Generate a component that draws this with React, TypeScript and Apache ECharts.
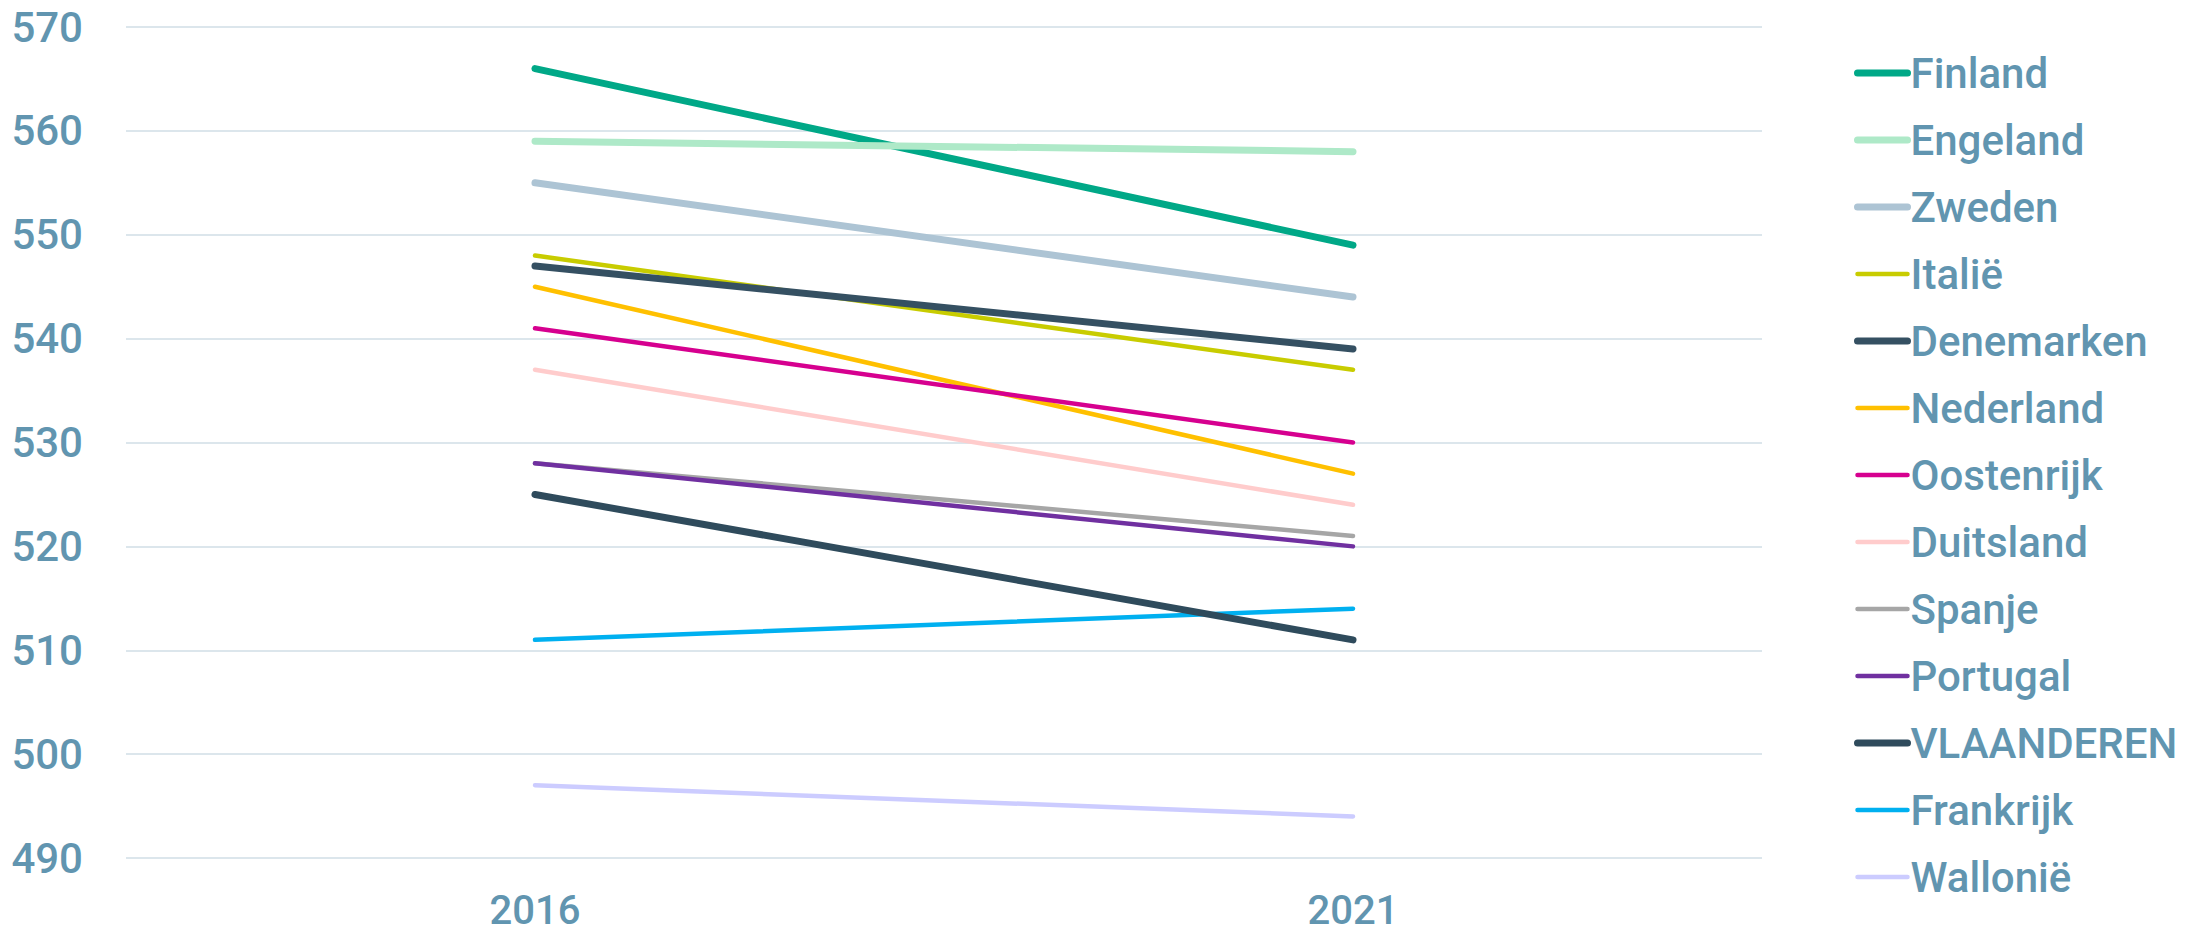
import React, { useEffect, useRef } from "react";
import * as echarts from "echarts";

const years = ["2016", "2021"];
const countries = [
  "Finland", "Engeland", "Zweden", "Italië", "Denemarken", "Nederland",
  "Oostenrijk", "Duitsland", "Spanje", "Portugal", "VLAANDEREN", "Frankrijk", "Wallonië",
];
const finland = [566, 549];
const engeland = [559, 558];
const zweden = [555, 544];
const italie = [548, 537];
const denemarken = [547, 539];
const nederland = [545, 527];
const oostenrijk = [541, 530];
const duitsland = [537, 524];
const spanje = [528, 521];
const portugal = [528, 520];
const vlaanderen = [525, 511];
const frankrijk = [511, 514];
const wallonie = [497, 494];
const seriesValues = [
  finland, engeland, zweden, italie, denemarken, nederland,
  oostenrijk, duitsland, spanje, portugal, vlaanderen, frankrijk, wallonie,
];
const colors = [
  "#00A887", "#AEE9C8", "#ADC4D4", "#C8CC00", "#355062", "#FFC000",
  "#D6008F", "#FFCCCC", "#A6A6A6", "#7030A0", "#2F4B5C", "#00B0F0", "#CCCCFF",
];
const thick = [true, true, true, false, true, false, false, false, false, false, true, false, false];
const yTicks = { min: 490, max: 570, interval: 10 };

const labelColor = "#6195B0";
const font = "Roboto";

export default function App() {
  const ref = useRef<HTMLDivElement>(null);
  useEffect(() => {
    if (!ref.current) return;
    const chart = echarts.init(ref.current, undefined, { renderer: "svg" });
    chart.setOption({
      animation: false,
      backgroundColor: "#ffffff",
      grid: { left: 126, right: 439, top: 27, bottom: 78, containLabel: false },
      legend: {
        orient: "vertical",
        left: 1849,
        top: 43,
        itemWidth: 50,
        itemHeight: 14,
        itemGap: 17,
        data: countries,
        itemStyle: { color: "rgba(0,0,0,0)", borderWidth: 0, opacity: 0 },
        lineStyle: { width: "inherit", cap: "round" },
        textStyle: {
          color: labelColor,
          fontFamily: font,
          fontWeight: 500,
          fontSize: 42,
          lineHeight: 50,
          padding: [0, 0, 0, -2],
        },
      },
      xAxis: {
        type: "category",
        data: years,
        boundaryGap: true,
        axisLine: { show: false },
        axisTick: { show: false },
        axisLabel: {
          color: labelColor,
          fontFamily: font,
          fontWeight: 500,
          fontSize: 40,
          lineHeight: 40,
          margin: 32,
        },
      },
      yAxis: {
        type: "value",
        min: yTicks.min,
        max: yTicks.max,
        interval: yTicks.interval,
        axisLine: { show: false },
        axisTick: { show: false },
        axisLabel: {
          color: labelColor,
          fontFamily: font,
          fontWeight: 500,
          fontSize: 42,
          margin: 43,
        },
        splitLine: { lineStyle: { color: "#DCE6EC", width: 2 } },
      },
      series: countries.map((name, i) => ({
        name,
        type: "line",
        data: seriesValues[i],
        symbol: "none",
        color: colors[i],
        lineStyle: {
          color: colors[i],
          width: thick[i] ? 7 : 4.5,
          cap: "round",
        },
        z: thick[i] ? 3 : 2,
      })),
    });
    return () => chart.dispose();
  }, []);
  return (
    <div
      ref={ref}
      style={{ position: "fixed", left: 0, top: 0, width: 2201, height: 936 }}
    />
  );
}
